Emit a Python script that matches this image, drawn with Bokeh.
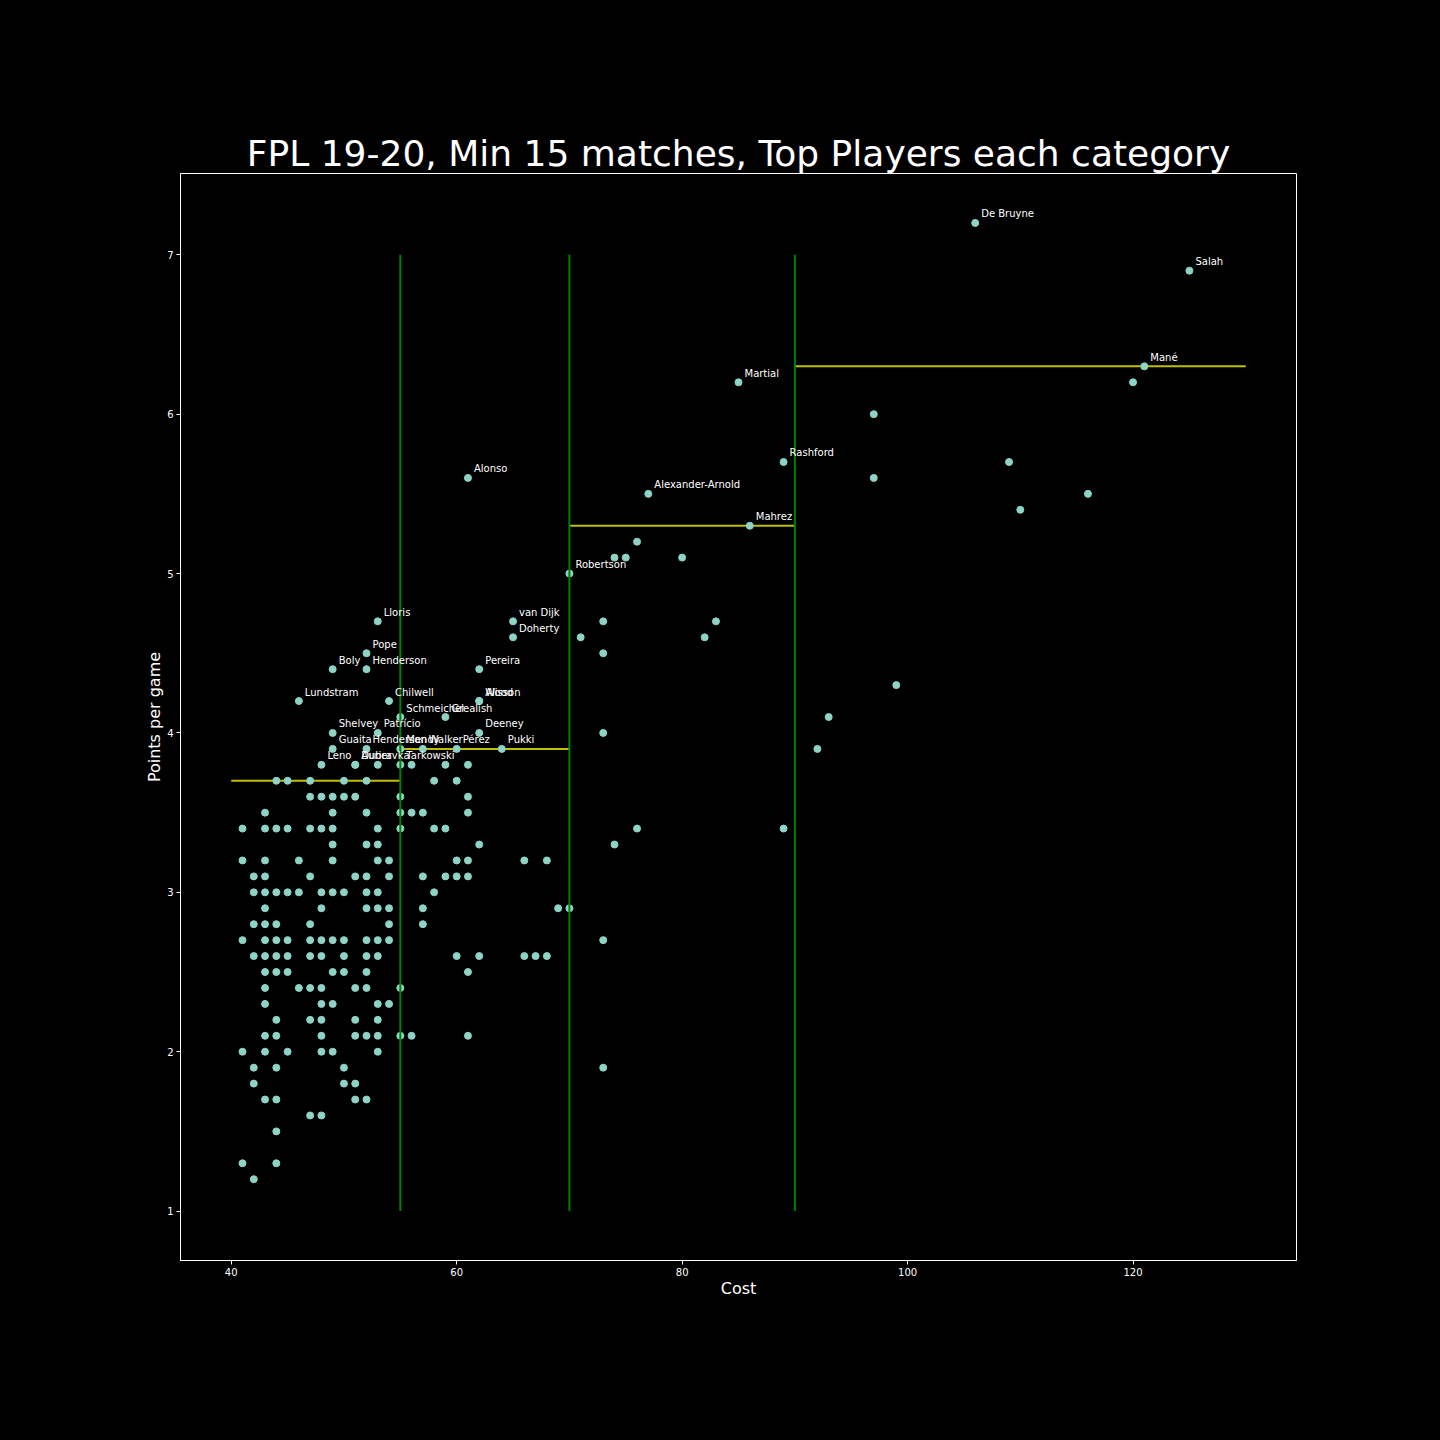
from bokeh.plotting import figure
from bokeh.models import FixedTicker, ColumnDataSource, GlobalInlineStyleSheet
from bokeh.core.properties import value
from bokeh.embed import file_html
from bokeh.resources import INLINE

# players without a label, one row per points-per-game level
other_cost = [
    120, 97, 109, 97, 116, 110, 76, 74, 75, 80,
    73, 83, 71, 82, 73, 99, 93, 73, 92,
    53, 56, 59, 61,
    44, 45, 47, 50, 52, 58, 60,
    47, 48, 49, 50, 51, 55, 61,
    43, 49, 52, 55, 56, 57, 61,
    41, 43, 44, 45, 47, 48, 49, 53, 55, 58, 59, 76, 89,
    49, 52, 53, 62, 74,
    41, 43, 46, 49, 53, 54, 60, 61, 66, 68,
    42, 43, 47, 51, 52, 54, 57, 59, 60, 61,
    42, 43, 44, 45, 46, 48, 49, 50, 52, 53, 58,
    43, 48, 52, 53, 54, 57, 69, 70,
    42, 43, 44, 47, 54, 57,
    41, 43, 44, 45, 47, 48, 49, 50, 52, 53, 54, 73,
    42, 43, 44, 45, 47, 48, 50, 52, 53, 60, 62, 66, 67, 68,
    43, 44, 45, 49, 50, 52, 61,
    43, 46, 47, 48, 51, 52, 55,
    43, 48, 49, 53, 54,
    44, 47, 48, 51, 53,
    43, 44, 48, 51, 52, 53, 55, 56, 61,
    41, 43, 45, 48, 49, 53,
    42, 44, 50, 73,
    42, 50, 51,
    43, 44, 51, 52,
    47, 48,
    44,
    41, 44,
    42,
]
other_ppg = (
    [6.2, 6.0, 5.7, 5.6, 5.5, 5.4, 5.2, 5.1, 5.1, 5.1,
     4.7, 4.7, 4.6, 4.6, 4.5, 4.3, 4.1, 4.0, 3.9]
    + [3.8] * 4 + [3.7] * 7 + [3.6] * 7 + [3.5] * 7 + [3.4] * 13
    + [3.3] * 5 + [3.2] * 10 + [3.1] * 10 + [3.0] * 11 + [2.9] * 8
    + [2.8] * 6 + [2.7] * 12 + [2.6] * 14 + [2.5] * 7 + [2.4] * 7
    + [2.3] * 5 + [2.2] * 5 + [2.1] * 9 + [2.0] * 6 + [1.9] * 4
    + [1.8] * 3 + [1.7] * 4 + [1.6] * 2 + [1.5] + [1.3] * 2 + [1.2]
)

# top players of each category (labelled)
top_name = [
    "De Bruyne", "Salah", "Mané", "Martial", "Rashford", "Alonso",
    "Alexander-Arnold", "Mahrez", "Robertson", "Lloris", "van Dijk",
    "Doherty", "Pope", "Boly", "Henderson", "Pereira", "Lundstram",
    "Chilwell", "Wood", "Alisson", "Schmeichel", "Grealish", "Shelvey",
    "Patrício", "Deeney", "Guaita", "Henderson", "Mendy", "Walker",
    "Pérez", "Pukki", "Leno", "Dubravka", "Aurier", "Tarkowski",
]
top_cost = [
    106, 125, 121, 85, 89, 61, 77, 86, 70, 53, 65, 65, 52, 49, 52, 62,
    46, 54, 62, 62, 55, 59, 49, 53, 62, 49, 52, 55, 57, 60, 64, 48, 51,
    51, 55,
]
top_ppg = [
    7.2, 6.9, 6.3, 6.2, 5.7, 5.6, 5.5, 5.3, 5.0, 4.7, 4.7, 4.6, 4.5, 4.4,
    4.4, 4.4, 4.2, 4.2, 4.2, 4.2, 4.1, 4.1, 4.0, 4.0, 4.0, 3.9, 3.9, 3.9,
    3.9, 3.9, 3.9, 3.8, 3.8, 3.8, 3.8,
]

# price categories and their average points per game
band_edges = [40, 55, 70, 90, 130]
band_mean = [3.7, 3.9, 5.3, 6.3]
split_low, split_high = 1, 7

FONT = "DejaVu Sans"

p = figure(
    width=1424,
    height=1424,
    x_range=(35.5, 134.5),
    y_range=(0.69, 7.51),
    output_backend="svg",
    toolbar_location=None,
    min_border_left=180,
    min_border_right=128,
    min_border_top=173,
    min_border_bottom=164,
)
p.stylesheets = [GlobalInlineStyleSheet(css="body { background: black; }")]

p.background_fill_color = "black"
p.border_fill_color = "black"
p.outline_line_color = "white"
p.outline_line_width = 1
p.xgrid.visible = False
p.ygrid.visible = False

p.title.text = "FPL 19-20, Min 15 matches, Top Players each category"
p.title.text_font = FONT
p.title.text_font_size = "36px"
p.title.text_font_style = "normal"
p.title.text_color = "white"
p.title.align = "center"
p.title.standoff = 0

# category averages
p.segment(x0=band_edges[:-1], x1=band_edges[1:], y0=band_mean, y1=band_mean,
          line_color="#bfbf00", line_width=2)

# points
p.scatter(other_cost, other_ppg, size=7, color="#8dd3c7")
p.scatter(top_cost, top_ppg, size=7, color="#8dd3c7")

# category splits
splits = band_edges[1:-1]
p.segment(x0=splits, x1=splits, y0=[split_low] * len(splits), y1=[split_high] * len(splits),
          line_color="#008000", line_width=2)

src = ColumnDataSource(dict(x=top_cost, y=top_ppg, name=top_name))
p.text("x", "y", text="name", source=src, x_offset=6, y_offset=-9,
       text_font=value(FONT), text_font_size="10px", text_color="white",
       text_baseline="alphabetic")

p.xaxis.ticker = FixedTicker(ticks=[40, 60, 80, 100, 120])
p.yaxis.ticker = FixedTicker(ticks=[1, 2, 3, 4, 5, 6, 7])
p.xaxis.axis_label = "Cost"
p.yaxis.axis_label = "Points per game"

for ax in (p.xaxis, p.yaxis):
    ax.axis_line_color = "white"
    ax.major_tick_line_color = "white"
    ax.minor_tick_line_color = None
    ax.major_tick_out = 4
    ax.major_tick_in = 0
    ax.major_label_text_color = "white"
    ax.major_label_text_font = FONT
    ax.major_label_text_font_size = "10px"
    ax.major_label_standoff = 3
    ax.axis_label_text_color = "white"
    ax.axis_label_text_font = FONT
    ax.axis_label_text_font_size = "16px"
    ax.axis_label_text_font_style = "normal"
    ax.axis_label_standoff = 0

p.yaxis.major_label_orientation = "horizontal"

open("out.html", "w").write(file_html(p, INLINE))
